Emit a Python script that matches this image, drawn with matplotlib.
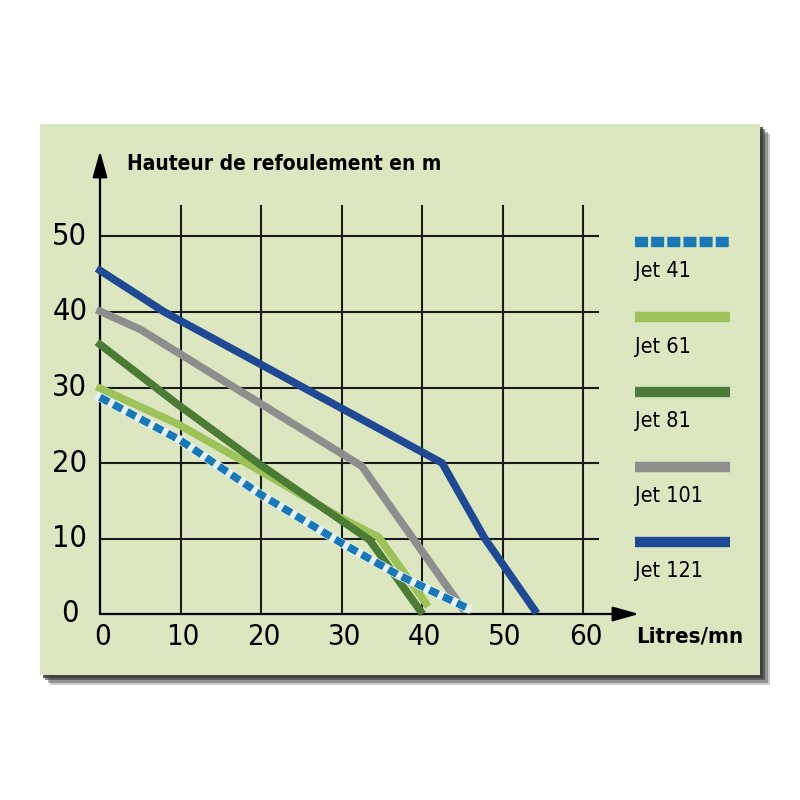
import numpy as np
import matplotlib
matplotlib.use("Agg")
import matplotlib.pyplot as plt
from matplotlib.patches import Rectangle

# courbes des pompes (débit l/min, hauteur m)
jet41_x = [0, 10, 20, 30, 37, 45.6]
jet41_y = [28.7, 23.0, 15.8, 9.4, 5.2, 0.8]
jet61_x = [0, 9.6, 19.5, 29.8, 34.6, 40.5]
jet61_y = [29.9, 25.2, 19.2, 12.8, 10.2, 1.4]
jet81_x = [0, 9.6, 20, 33.5, 39.8]
jet81_y = [35.7, 27.8, 19.7, 9.8, 0.4]
jet101_x = [0, 5, 32.5, 45]
jet101_y = [40.1, 37.7, 19.6, 0.8]
jet121_x = [0, 8, 42.5, 47.8, 54]
jet121_y = [45.5, 40.0, 20.0, 10.0, 0.5]

noms = ["Jet 41", "Jet 61", "Jet 81", "Jet 101", "Jet 121"]
couleurs = ["#1b78b7", "#9dc25a", "#4b7b35", "#8e8e8e", "#1f4a93"]
xticks = [0, 10, 20, 30, 40, 50, 60]
yticks = [0, 10, 20, 30, 40, 50]

police = ["DejaVu Sans"]
etroit = "condensed"
fond = "#dce6c0"

fig = plt.figure(figsize=(8, 8), dpi=100)
fig.patch.set_facecolor("white")

# ombre du cadre
for i, a in enumerate([0.25, 0.4, 0.6, 0.8]):
    d = (4 - i) * 2.5
    fig.patches.append(Rectangle(((40 + d) / 800, (125 - d) / 800), 720 / 800, 551 / 800,
                                 transform=fig.transFigure, facecolor="#3a3a3a", alpha=a,
                                 edgecolor="none", zorder=-5))

ax = fig.add_axes([40 / 800, 125 / 800, 720 / 800, 551 / 800])
ax.set_zorder(5)
ax.set_facecolor(fond)
ax.set_xlim((40 - 100) / 8.05, (760 - 100) / 8.05)
ax.set_ylim((615 - 676) / 7.55, (615 - 125) / 7.55)
for s in ax.spines.values():
    s.set_visible(False)
ax.set_xticks([])
ax.set_yticks([])

xmax_grille = (598 - 100) / 8.05
ymax_grille = (615 - 207) / 7.55
for y in yticks[1:]:
    ax.plot([0, xmax_grille], [y, y], color="#1a1a1a", lw=1.5, zorder=1)
for x in xticks[1:]:
    ax.plot([x, x], [0, ymax_grille], color="#1a1a1a", lw=1.5, zorder=1)

# axes avec flèches
ytop = (615 - 152) / 7.55
xend = (639 - 100) / 8.05
ax.annotate("", xy=(0, ytop), xytext=(0, 0),
            arrowprops=dict(arrowstyle="-|>,head_length=1.6,head_width=0.45", color="black",
                            lw=1.6, shrinkA=0, shrinkB=0))
ax.annotate("", xy=(xend, 0), xytext=(0, 0),
            arrowprops=dict(arrowstyle="-|>,head_length=1.6,head_width=0.45", color="black",
                            lw=1.6, shrinkA=0, shrinkB=0))

for x in xticks:
    ax.text(x + 0.3, -3.0, str(x), ha="center", va="center", fontsize=21,
            family=police, fontstretch=etroit)
for y in yticks:
    ax.text(-3.75, y, str(y), ha="center", va="center", fontsize=22,
            family=police, fontstretch=etroit)

ax.text((127 - 100) / 8.05, (615 - 165) / 7.55, "Hauteur de refoulement en m",
        ha="left", va="center", fontsize=15, fontweight="bold", family=police, fontstretch=etroit)
ax.text((636 - 100) / 8.05, (615 - 637) / 7.55, "Litres/mn",
        ha="left", va="center", fontsize=16, fontweight="bold", family=police, fontstretch=etroit)

series = [(jet41_x, jet41_y), (jet61_x, jet61_y), (jet81_x, jet81_y),
          (jet101_x, jet101_y), (jet121_x, jet121_y)]
for k, (xs, ys) in enumerate(series):
    if k == 0:
        continue
    ax.plot(xs, ys, color=couleurs[k], lw=5.5, solid_joinstyle="miter", zorder=3 + k)

# courbe pointillée Jet 41
ax.plot(jet41_x, jet41_y, color="#e4f2f4", lw=6.5, zorder=9)
ax.plot(jet41_x, jet41_y, color=couleurs[0], lw=5.5, dashes=(1.3, 0.7),
        dash_capstyle="butt", zorder=10)

# légende
leg_y = [243, 318, 393, 468, 543]
lab_y = [272, 348, 422, 497, 572]
lx0 = (635 - 100) / 8.05
lx1 = (730 - 100) / 8.05
for k in range(5):
    yy = (615 - leg_y[k]) / 7.55
    if k == 0:
        ax.plot([lx0, lx1], [yy, yy], color=couleurs[0], lw=7.5, dashes=(1.25, 0.3),
                dash_capstyle="butt")
    else:
        ax.plot([lx0, lx1], [yy, yy], color=couleurs[k], lw=7.5, solid_capstyle="butt")
    ax.text(lx0, (615 - lab_y[k]) / 7.55, noms[k], ha="left", va="center",
            fontsize=15.5, family=police, fontstretch=etroit)

fig.savefig("out.png", dpi=100, facecolor="white")
